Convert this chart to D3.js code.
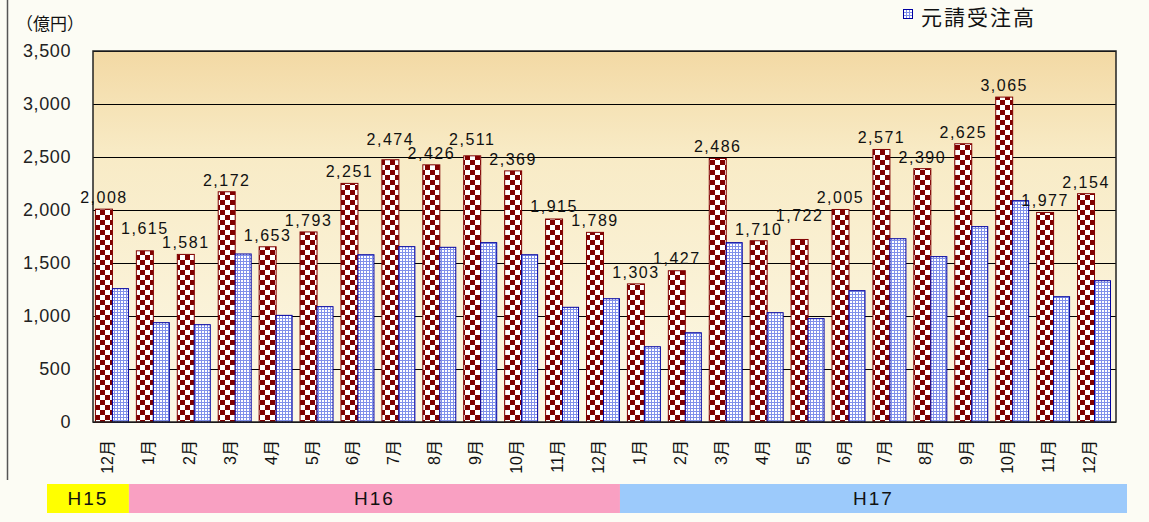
<!DOCTYPE html>
<html>
<head>
<meta charset="utf-8">
<script src="https://cdn.jsdelivr.net/npm/d3@7"></script>
<style>
  body { margin: 0; background: #fcfcf4; }
  text { font-family: "Liberation Sans", Arial, "Noto Sans CJK JP", sans-serif; fill: #111; }
  .jp { font-family: "Noto Sans CJK JP", sans-serif; }
</style>
</head>
<body>
<div id="chart"></div>
<script>
// months along the bottom, H15 12月 through H17 12月
var months = ['12月', '1月', '2月', '3月', '4月', '5月', '6月', '7月', '8月', '9月', '10月', '11月', '12月',
              '1月', '2月', '3月', '4月', '5月', '6月', '7月', '8月', '9月', '10月', '11月', '12月'];

var eraNames = ['H15', 'H16', 'H17'];
var eraMonths = [1, 12, 12];

// red checkered bars (labelled)
var totalOrders = [2008, 1615, 1581, 2172, 1653, 1793, 2251, 2474, 2426, 2511, 2369, 1915, 1789,
                   1303, 1427, 2486, 1710, 1722, 2005, 2571, 2390, 2625, 3065, 1977, 2154];

// blue dotted bars = 元請受注高
var primeOrders = [1258, 937, 918, 1585, 1006, 1088, 1578, 1654, 1648, 1692, 1578, 1082, 1163,
                   710, 842, 1692, 1031, 975, 1239, 1729, 1560, 1843, 2088, 1182, 1333];

var yTicks = [0, 500, 1000, 1500, 2000, 2500, 3000, 3500];
var unitLabel = '（億円）';
var legendLabel = '元請受注高';

var W = 1149, H = 522;
var plot = { left: 93, right: 1116, top: 51, bottom: 422 };

var svg = d3.select('#chart').append('svg')
  .attr('width', W)
  .attr('height', H);

var defs = svg.append('defs');

var bgGrad = defs.append('linearGradient')
  .attr('id', 'bg')
  .attr('x1', 0).attr('y1', 0).attr('x2', 0).attr('y2', 1);
bgGrad.append('stop').attr('offset', '0%').attr('stop-color', '#f3d9a4');
bgGrad.append('stop').attr('offset', '28%').attr('stop-color', '#f8ebc6');
bgGrad.append('stop').attr('offset', '100%').attr('stop-color', '#fcf8e6');

// checker pattern for the red bars
var checker = defs.append('pattern')
  .attr('id', 'checker')
  .attr('patternUnits', 'userSpaceOnUse')
  .attr('width', 10).attr('height', 10);
checker.append('rect').attr('width', 10).attr('height', 10).attr('fill', '#ffffff');
checker.append('rect').attr('width', 5).attr('height', 5).attr('fill', '#800000');
checker.append('rect').attr('x', 5).attr('y', 5).attr('width', 5).attr('height', 5).attr('fill', '#800000');

// dotted pattern for the blue bars
var dots = defs.append('pattern')
  .attr('id', 'dots')
  .attr('patternUnits', 'userSpaceOnUse')
  .attr('width', 3).attr('height', 3);
dots.append('rect').attr('width', 3).attr('height', 3).attr('fill', '#8090ea');
dots.append('rect').attr('x', 1).attr('y', 1).attr('width', 2).attr('height', 2).attr('fill', '#ffffff');

// SCALES
var x = d3.scaleBand()
  .domain(d3.range(months.length))
  .range([plot.left, plot.right])
  .padding(0);

var sub = d3.scaleBand()
  .domain(['total', 'prime'])
  .range([x.bandwidth() * 0.06, x.bandwidth() * 0.89]);

var y = d3.scaleLinear()
  .domain([0, 3500])
  .range([plot.bottom, plot.top]);

// left frame line
svg.append('line')
  .attr('x1', 7.5).attr('x2', 7.5)
  .attr('y1', 0).attr('y2', 480)
  .attr('stroke', '#555')
  .attr('stroke-width', 1.5);

// plot background
svg.append('rect')
  .attr('x', plot.left).attr('y', plot.top)
  .attr('width', plot.right - plot.left)
  .attr('height', plot.bottom - plot.top)
  .attr('fill', 'url(#bg)');

// AXES
var yAxis = d3.axisLeft(y)
  .tickValues(yTicks)
  .tickSize(-(plot.right - plot.left))
  .tickFormat(d3.format(','));

var gy = svg.append('g')
  .attr('transform', 'translate(' + plot.left + ',0)')
  .call(yAxis);
gy.select('.domain').remove();
gy.selectAll('line')
  .attr('stroke', '#000')
  .attr('shape-rendering', 'crispEdges');
gy.selectAll('text')
  .attr('x', -22)
  .style('font-size', '18px')
  .style('letter-spacing', '0.6px')
  .style('fill', '#222');

// bars
var bars = svg.append('g');

bars.selectAll('rect.total')
  .data(totalOrders)
  .enter().append('rect')
  .attr('class', 'total')
  .attr('x', function(d, i) { return x(i) + sub('total'); })
  .attr('y', function(d) { return y(d); })
  .attr('width', sub.bandwidth())
  .attr('height', function(d) { return y(0) - y(d); })
  .attr('fill', 'url(#checker)')
  .attr('stroke', '#800000')
  .attr('stroke-width', 1);

bars.selectAll('rect.prime')
  .data(primeOrders)
  .enter().append('rect')
  .attr('class', 'prime')
  .attr('x', function(d, i) { return x(i) + sub('prime'); })
  .attr('y', function(d) { return y(d); })
  .attr('width', sub.bandwidth() - 1)
  .attr('height', function(d) { return y(0) - y(d); })
  .attr('fill', 'url(#dots)')
  .attr('stroke', '#0000a0')
  .attr('stroke-width', 1);

// plot frame
svg.append('rect')
  .attr('x', plot.left).attr('y', plot.top)
  .attr('width', plot.right - plot.left)
  .attr('height', plot.bottom - plot.top)
  .attr('fill', 'none')
  .attr('stroke', '#222')
  .attr('stroke-width', 1.5);

// value labels over red bars.
// neighbours overlap sideways, so the taller of two close bars gets its label lifted
var fmt = d3.format(',');
var labelGap = 6, labelH = 14;
var labelY = totalOrders.map(function(d) { return y(d) - labelGap; });
d3.range(totalOrders.length)
  .sort(function(a, b) { return totalOrders[a] - totalOrders[b]; })
  .forEach(function(i, k, order) {
    var placed = order.slice(0, k);
    [i - 1, i + 1].forEach(function(j) {
      if (placed.indexOf(j) < 0) return;
      if (labelY[i] > labelY[j] - labelH) labelY[i] = labelY[j] - labelH;
    });
  });

svg.append('g').selectAll('text')
  .data(totalOrders)
  .enter().append('text')
  .attr('x', function(d, i) { return x(i) + sub('total') + sub.bandwidth() / 2; })
  .attr('y', function(d, i) { return labelY[i]; })
  .attr('text-anchor', 'middle')
  .style('font-size', '16px')
  .style('letter-spacing', '1.5px')
  .text(function(d) { return fmt(d); });

// month labels, rotated
svg.append('g').selectAll('text')
  .data(months)
  .enter().append('text')
  .attr('transform', function(d, i) {
    return 'translate(' + (x(i) + x.bandwidth() / 2 - 6) + ',440) rotate(-90)';
  })
  .attr('text-anchor', 'end')
  .attr('dominant-baseline', 'central')
  .style('font-size', '16px')
  .text(function(d) { return d; });

// era bands under the months
var eraColors = ['#ffff00', '#f9a0c2', '#9ccafb'];
var bandLeft = 47, bandRight = 1127;
var eraStart = eraMonths.map(function(m, i) { return d3.sum(eraMonths.slice(0, i)); });
var eraX = eraStart.map(function(s, i) { return i === 0 ? bandLeft : x(s) - 5; });
eraX.push(bandRight);

var era = svg.append('g');
era.selectAll('rect')
  .data(eraNames)
  .enter().append('rect')
  .attr('x', function(d, i) { return eraX[i]; })
  .attr('y', 484)
  .attr('width', function(d, i) { return eraX[i + 1] - eraX[i]; })
  .attr('height', 29)
  .attr('fill', function(d, i) { return eraColors[i]; });
era.selectAll('text')
  .data(eraNames)
  .enter().append('text')
  .attr('x', function(d, i) { return (eraX[i] + eraX[i + 1]) / 2; })
  .attr('y', 505)
  .attr('text-anchor', 'middle')
  .style('font-size', '19px')
  .style('letter-spacing', '2px')
  .text(function(d) { return d; });

// unit
svg.append('text')
  .attr('class', 'jp')
  .attr('x', 16).attr('y', 30)
  .style('font-size', '17px')
  .text(unitLabel);

// legend
svg.append('rect')
  .attr('x', 903.5).attr('y', 9.5)
  .attr('width', 9).attr('height', 9)
  .attr('fill', 'url(#dots)')
  .attr('stroke', '#0000a0');
svg.append('text')
  .attr('class', 'jp')
  .attr('x', 921).attr('y', 25)
  .style('font-size', '21px')
  .style('letter-spacing', '2px')
  .text(legendLabel);
</script>
</body>
</html>
